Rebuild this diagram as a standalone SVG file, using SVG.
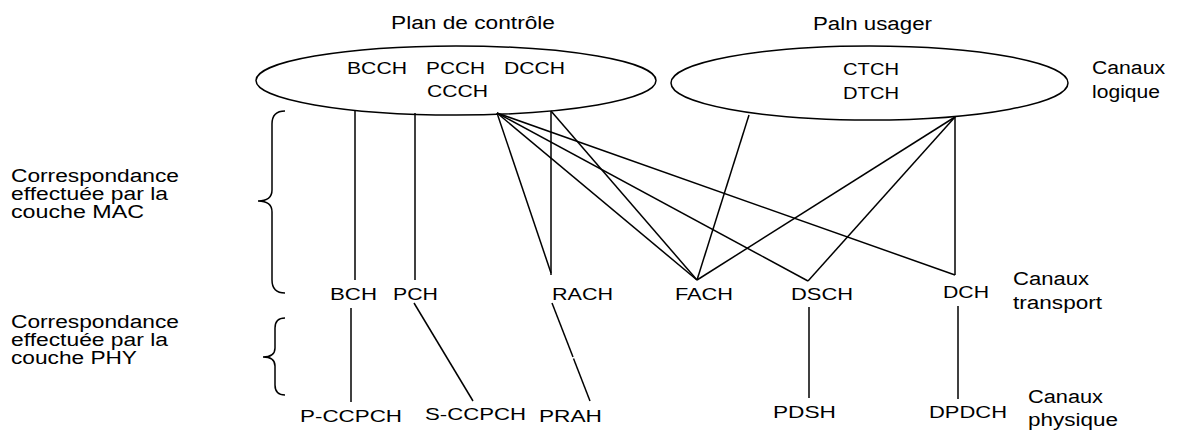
<svg xmlns="http://www.w3.org/2000/svg" width="1181" height="430" viewBox="0 0 1181 430">
  <style>
    text { font-family: "Liberation Sans", Arial, sans-serif; fill: #000; }
    .lbl { font-size: 18px; }
    .ch { font-size: 17px; }
    .shape { fill: none; stroke: #000; stroke-width: 1.5; }
    .conn line, .conn path { stroke: #000; stroke-width: 1.5; fill: none; }
  </style>
  <rect width="1181" height="430" fill="#fff"/>

  <!-- plane titles -->
  <g id="title-control">
    <text class="lbl" x="391" y="29" textLength="164" lengthAdjust="spacingAndGlyphs">Plan de contrôle</text>
  </g>
  <g id="title-user">
    <text class="lbl" x="813" y="30" textLength="119" lengthAdjust="spacingAndGlyphs">Paln usager</text>
  </g>

  <!-- logical channels: control plane -->
  <g id="control-plane">
    <ellipse class="shape" cx="456" cy="80.5" rx="200" ry="34.5"/>
    <text class="ch" x="347" y="74" textLength="60" lengthAdjust="spacingAndGlyphs">BCCH</text>
    <text class="ch" x="426" y="74" textLength="59" lengthAdjust="spacingAndGlyphs">PCCH</text>
    <text class="ch" x="504" y="74" textLength="61" lengthAdjust="spacingAndGlyphs">DCCH</text>
    <text class="ch" x="427" y="97" textLength="61" lengthAdjust="spacingAndGlyphs">CCCH</text>
  </g>

  <!-- logical channels: user plane -->
  <g id="user-plane">
    <ellipse class="shape" cx="869.5" cy="83" rx="198.5" ry="37"/>
    <text class="ch" x="843" y="75" textLength="56" lengthAdjust="spacingAndGlyphs">CTCH</text>
    <text class="ch" x="843" y="99" textLength="56" lengthAdjust="spacingAndGlyphs">DTCH</text>
  </g>

  <!-- layer captions on the right -->
  <g id="caption-logical">
    <text class="lbl" x="1092" y="74" textLength="73" lengthAdjust="spacingAndGlyphs">Canaux</text>
    <text class="lbl" x="1092" y="98" textLength="68" lengthAdjust="spacingAndGlyphs">logique</text>
  </g>
  <g id="caption-transport">
    <text class="lbl" x="1013" y="285" textLength="76" lengthAdjust="spacingAndGlyphs">Canaux</text>
    <text class="lbl" x="1013" y="309" textLength="89" lengthAdjust="spacingAndGlyphs">transport</text>
  </g>
  <g id="caption-physical">
    <text class="lbl" x="1028" y="403" textLength="75" lengthAdjust="spacingAndGlyphs">Canaux</text>
    <text class="lbl" x="1028" y="426" textLength="90" lengthAdjust="spacingAndGlyphs">physique</text>
  </g>

  <!-- mapping captions with braces -->
  <g id="mapping-mac">
    <text class="lbl" x="11" y="182" textLength="168" lengthAdjust="spacingAndGlyphs">Correspondance</text>
    <text class="lbl" x="11" y="200" textLength="157" lengthAdjust="spacingAndGlyphs">effectuée par la</text>
    <text class="lbl" x="11" y="218" textLength="133" lengthAdjust="spacingAndGlyphs">couche MAC</text>
    <path class="shape" d="M285,111 Q272,111 272,124 L272,190 Q272,201 258,201 Q272,201 272,212 L272,280 Q272,293 285,293"/>
  </g>
  <g id="mapping-phy">
    <text class="lbl" x="11" y="328" textLength="168" lengthAdjust="spacingAndGlyphs">Correspondance</text>
    <text class="lbl" x="11" y="346" textLength="157" lengthAdjust="spacingAndGlyphs">effectuée par la</text>
    <text class="lbl" x="11" y="364" textLength="126" lengthAdjust="spacingAndGlyphs">couche PHY</text>
    <path class="shape" d="M285,318 Q275,318 275,328 L275,348 Q275,357 263,357 Q275,357 275,366 L275,385 Q275,395 285,395"/>
  </g>

  <!-- transport channels -->
  <g id="BCH"><text class="ch" x="330" y="300" textLength="47" lengthAdjust="spacingAndGlyphs">BCH</text></g>
  <g id="PCH"><text class="ch" x="393" y="300" textLength="45" lengthAdjust="spacingAndGlyphs">PCH</text></g>
  <g id="RACH"><text class="ch" x="552" y="300" textLength="61" lengthAdjust="spacingAndGlyphs">RACH</text></g>
  <g id="FACH"><text class="ch" x="675" y="300" textLength="58" lengthAdjust="spacingAndGlyphs">FACH</text></g>
  <g id="DSCH"><text class="ch" x="791" y="300" textLength="62" lengthAdjust="spacingAndGlyphs">DSCH</text></g>
  <g id="DCH"><text class="ch" x="943" y="298" textLength="46" lengthAdjust="spacingAndGlyphs">DCH</text></g>

  <!-- physical channels -->
  <g id="P-CCPCH"><text class="ch" x="300" y="422" textLength="102" lengthAdjust="spacingAndGlyphs">P-CCPCH</text></g>
  <g id="S-CCPCH"><text class="ch" x="425" y="420" textLength="101" lengthAdjust="spacingAndGlyphs">S-CCPCH</text></g>
  <g id="PRAH"><text class="ch" x="539" y="422" textLength="63" lengthAdjust="spacingAndGlyphs">PRAH</text></g>
  <g id="PDSH"><text class="ch" x="773" y="418" textLength="63" lengthAdjust="spacingAndGlyphs">PDSH</text></g>
  <g id="DPDCH"><text class="ch" x="929" y="418" textLength="78" lengthAdjust="spacingAndGlyphs">DPDCH</text></g>

  <!-- connectors -->
  <g id="connectors" class="conn">
    <!-- logical to transport -->
    <line x1="355" y1="110" x2="355" y2="280"/>
    <line x1="415" y1="113" x2="415" y2="280"/>
    <line x1="497" y1="113" x2="551" y2="273"/>
    <line x1="497" y1="113" x2="697" y2="280"/>
    <line x1="497" y1="113" x2="808" y2="281"/>
    <line x1="497" y1="113" x2="955" y2="275"/>
    <line x1="551" y1="111" x2="551" y2="275"/>
    <line x1="551" y1="111" x2="697" y2="280"/>
    <line x1="749" y1="115" x2="697" y2="280"/>
    <line x1="955" y1="117" x2="697" y2="280"/>
    <line x1="955" y1="117" x2="808" y2="281"/>
    <line x1="955" y1="117" x2="955" y2="275"/>
    <!-- transport to physical -->
    <line x1="351" y1="308" x2="351" y2="402"/>
    <line x1="414" y1="303" x2="473" y2="401"/>
    <line x1="552" y1="303" x2="573" y2="357"/>
    <line x1="573.5" y1="358.5" x2="590" y2="401"/>
    <line x1="809" y1="307" x2="809" y2="398"/>
    <line x1="958" y1="306" x2="958" y2="399"/>
  </g>
</svg>
